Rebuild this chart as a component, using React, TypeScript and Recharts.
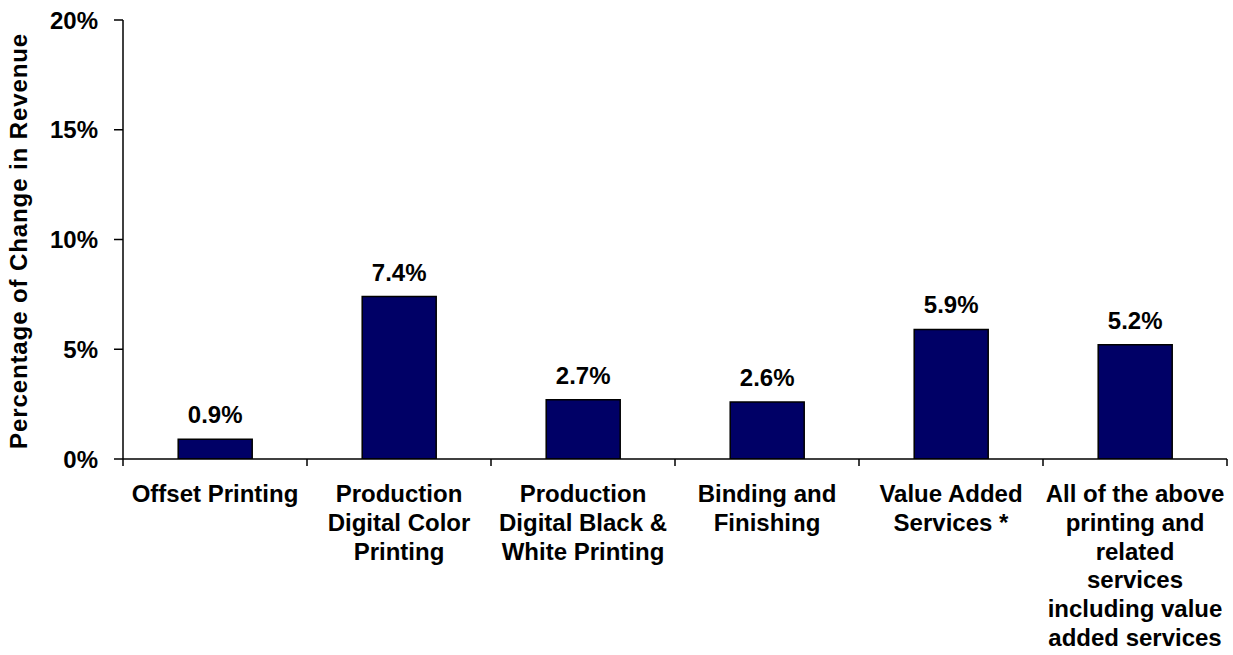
import React from 'react';
import { BarChart, Bar, XAxis, YAxis, LabelList } from 'recharts';

const CATEGORIES = [
  'Offset Printing',
  'Production Digital Color Printing',
  'Production Digital Black & White Printing',
  'Binding and Finishing',
  'Value Added Services *',
  'All of the above printing and related services including value added services',
];

// wrapped the way the original axis breaks them
const CATEGORY_LINES = [
  ['Offset Printing'],
  ['Production', 'Digital Color', 'Printing'],
  ['Production', 'Digital Black &', 'White Printing'],
  ['Binding and', 'Finishing'],
  ['Value Added', 'Services *'],
  ['All of the above', 'printing and', 'related', 'services', 'including value', 'added services'],
];

const REVENUE_CHANGE = [0.9, 7.4, 2.7, 2.6, 5.9, 5.2];

const Y_TICKS = [0, 5, 10, 15, 20];

const data = CATEGORIES.map((name, i) => ({
  name,
  lines: CATEGORY_LINES[i],
  value: REVENUE_CHANGE[i],
}));

const CHART_W = 1233;
const CHART_H = 655;
const MARGIN = { top: 20, right: 6, bottom: 0, left: 0 };
const Y_AXIS_W = 123;
const X_AXIS_H = 196;
const BAND = (CHART_W - MARGIN.right - MARGIN.left - Y_AXIS_W) / CATEGORIES.length;

const FONT = '"Liberation Sans", Arial, sans-serif';
const BAR_FILL = '#000066';

const CategoryTick = ({ x, y, payload, index }: any) => {
  const lines: string[] = data[payload.index ?? index]?.lines ?? [payload.value];
  const isLast = (payload.index ?? index) === CATEGORIES.length - 1;
  return (
    <g>
      <line x1={x - BAND / 2} x2={x - BAND / 2} y1={y} y2={y + 7} stroke="#000" strokeWidth={1.5} />
      {isLast && (
        <line x1={x + BAND / 2} x2={x + BAND / 2} y1={y} y2={y + 7} stroke="#000" strokeWidth={1.5} />
      )}
      <text
        x={x}
        y={y + 43}
        textAnchor="middle"
        fontFamily={FONT}
        fontWeight="bold"
        fontSize={24}
        fill="#000"
      >
        {lines.map((line, i) => (
          <tspan key={i} x={x} dy={i === 0 ? 0 : 28.8}>
            {line}
          </tspan>
        ))}
      </text>
    </g>
  );
};

const AxisTitle = () => (
  <text
    x={27}
    y={241}
    transform="rotate(-90, 27, 241)"
    textAnchor="middle"
    fontFamily={FONT}
    fontWeight="bold"
    fontSize={24}
    letterSpacing={0.9}
    fill="#000"
  >
    Percentage of Change in Revenue
  </text>
);

export default function App() {
  return (
    <div style={{ position: 'absolute', left: 0, top: 0, background: '#fff' }}>
      <BarChart width={CHART_W} height={CHART_H} data={data} margin={MARGIN} barCategoryGap="30%">
        <XAxis
          dataKey="name"
          height={X_AXIS_H}
          interval={0}
          tickLine={false}
          tickSize={0}
          tickMargin={0}
          axisLine={{ stroke: '#000', strokeWidth: 1.5 }}
          tick={<CategoryTick />}
        />
        <YAxis
          width={Y_AXIS_W}
          domain={[0, 20]}
          ticks={Y_TICKS}
          allowDataOverflow
          tickFormatter={(v) => `${v}%`}
          tickSize={9}
          tickMargin={16}
          tickLine={{ stroke: '#000', strokeWidth: 1.5 }}
          axisLine={{ stroke: '#000', strokeWidth: 1.5 }}
          tick={{ fontFamily: FONT, fontWeight: 'bold', fontSize: 24, fill: '#000' }}
          label={<AxisTitle />}
        />
        <Bar dataKey="value" fill={BAR_FILL} stroke="#000" strokeWidth={1.5} isAnimationActive={false}>
          <LabelList
            dataKey="value"
            position="top"
            offset={16}
            formatter={(v: any) => `${Number(v).toFixed(1)}%`}
            style={{ fontFamily: FONT, fontWeight: 'bold', fontSize: 24, fill: '#000' }}
          />
        </Bar>
      </BarChart>
    </div>
  );
}
